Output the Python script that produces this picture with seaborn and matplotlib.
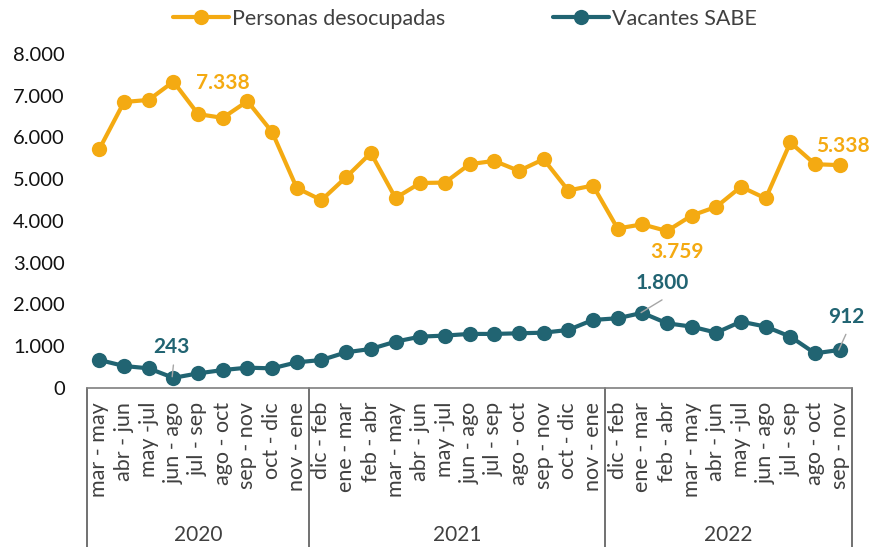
import numpy as np
import pandas as pd
import matplotlib
matplotlib.use("Agg")
import matplotlib.pyplot as plt
import matplotlib.transforms as mtransforms
import seaborn as sns

# data
periodos = ["mar - may", "abr - jun", "may -jul", "jun - ago", "jul - sep", "ago - oct",
            "sep - nov", "oct - dic", "nov - ene",
            "dic - feb", "ene - mar", "feb - abr", "mar - may", "abr - jun", "may -jul",
            "jun - ago", "jul - sep", "ago - oct", "sep - nov", "oct - dic", "nov - ene",
            "dic - feb", "ene - mar", "feb - abr", "mar - may", "abr - jun", "may -jul",
            "jun - ago", "jul - sep", "ago - oct", "sep - nov"]
anios = ["2020", "2021", "2022"]
periodos_por_anio = [9, 12, 10]

desocupadas = [5725, 6850, 6900, 7338, 6560, 6470, 6870, 6130, 4790,
               4500, 5050, 5630, 4550, 4910, 4920, 5360, 5440, 5200, 5480, 4730, 4850,
               3820, 3920, 3759, 4130, 4340, 4820, 4540, 5880, 5360, 5338]
vacantes = [670, 527, 470, 243, 350, 430, 487, 470, 615,
            670, 855, 935, 1110, 1230, 1255, 1295, 1295, 1310, 1325, 1390, 1630,
            1670, 1800, 1550, 1470, 1325, 1590, 1470, 1230, 830, 912]

serie_names = ["Personas desocupadas", "Vacantes SABE"]
colores = ["#F4AA12", "#216472"]


def miles(v):
    return f"{v:,}".replace(",", ".")


sns.set_theme(style="white")
plt.rcParams["font.family"] = ["Lato", "DejaVu Sans"]

n = len(periodos)
df = pd.DataFrame({
    "x": list(range(n)) * 2,
    "valor": desocupadas + vacantes,
    "serie": [serie_names[0]] * n + [serie_names[1]] * n,
})

fig = plt.figure(figsize=(8.73, 5.47), dpi=100)
ax = fig.add_axes([0.0997, 0.2907, 0.8763, 0.6106])

sns.lineplot(data=df, x="x", y="valor", hue="serie", palette=colores,
             style="serie", markers=["o", "o"], dashes=False,
             linewidth=3, markersize=11, markeredgewidth=0, ax=ax)

ax.set_xlim(-0.5, n - 0.5)
ax.set_ylim(0, 8000)
ax.set_yticks(np.arange(0, 8001, 1000))
ax.set_yticklabels([miles(v) for v in range(0, 8001, 1000)],
                   fontsize=14.5, color="#111111")
ax.set_xticks(range(n))
ax.set_xticklabels(periodos, rotation=90, fontsize=15.5, color="#404040")
ax.tick_params(axis="x", length=0, pad=10)
ax.tick_params(axis="y", length=0, pad=16)
ax.set_xlabel("")
ax.set_ylabel("")
for s in ["top", "right", "left"]:
    ax.spines[s].set_visible(False)
ax.spines["bottom"].set_color("#7f7f7f")
ax.spines["bottom"].set_linewidth(1.2)

# year grouping below the axis
trans = mtransforms.blended_transform_factory(ax.transData, ax.transAxes)
bordes = np.concatenate([[0], np.cumsum(periodos_por_anio)]) - 0.5
for b in bordes:
    ax.plot([b, b], [0, -0.48], transform=trans, color="#595959", lw=1.2, clip_on=False)
for i, anio in enumerate(anios):
    centro = (bordes[i] + bordes[i + 1]) / 2
    ax.text(centro, -0.44, anio, transform=trans, ha="center", va="center",
            fontsize=15, color="#404040")

# data labels
lbl_kw = dict(fontsize=15, fontweight="bold", ha="center", va="center")
ax.text(5.0, 7300, miles(desocupadas[3]), color=colores[0], **lbl_kw)
ax.text(23.4, 3265, miles(desocupadas[23]), color=colores[0], **lbl_kw)
ax.text(30.15, 5800, miles(desocupadas[30]), color=colores[0], **lbl_kw)
ax.text(2.92, 990, miles(vacantes[3]), color=colores[1], **lbl_kw)
ax.text(22.8, 2520, miles(vacantes[22]), color=colores[1], **lbl_kw)
ax.text(30.25, 1710, miles(vacantes[30]), color=colores[1], **lbl_kw)
# leader lines
ax.plot([2.95, 3.0], [270, 550], color="#a6a6a6", lw=1)
ax.plot([21.95, 22.8], [1805, 2110], color="#a6a6a6", lw=1)
ax.plot([29.96, 30.25], [910, 1285], color="#a6a6a6", lw=1)

# legend
handles, labels = ax.get_legend_handles_labels()
ax.legend(handles, labels, loc="center", bbox_to_anchor=(0.494, 1.105), ncol=2,
          frameon=False, fontsize=15.5, handlelength=2.6, handletextpad=0.15,
          columnspacing=5.0, labelcolor="#404040")

fig.savefig("out.png", dpi=100)
